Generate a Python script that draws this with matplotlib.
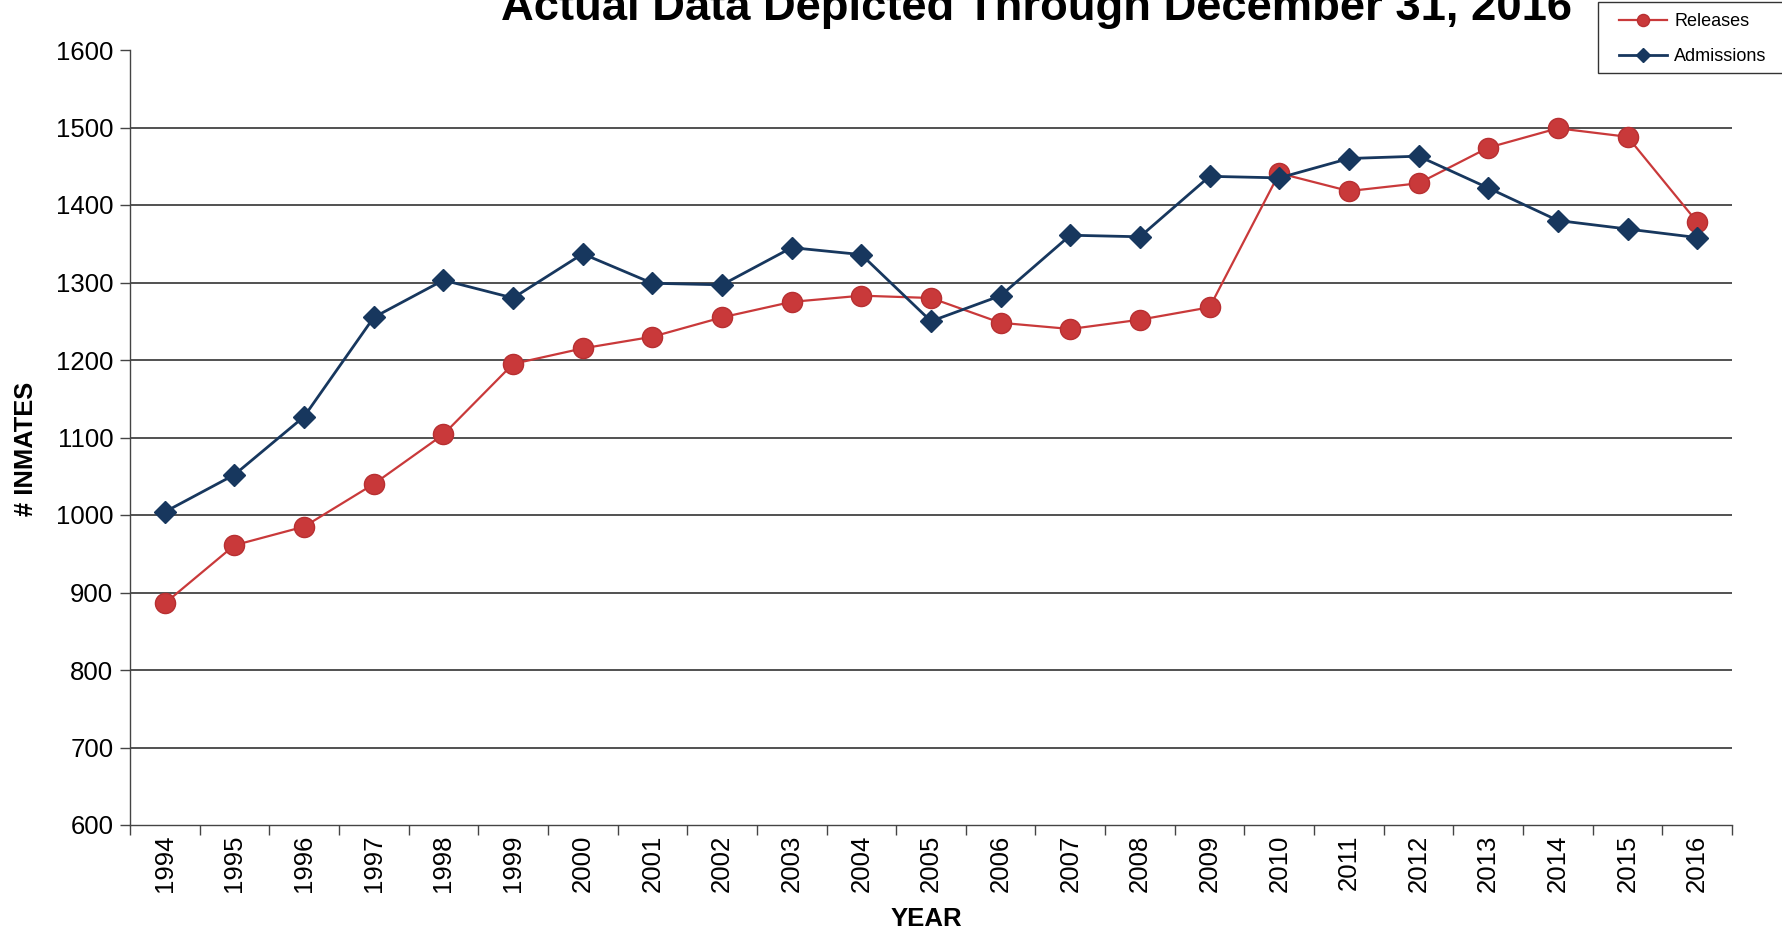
import matplotlib
matplotlib.use("Agg")
import matplotlib.pyplot as plt
from matplotlib.patches import Rectangle
import numpy as np

years = [str(y) for y in range(1994, 2017)]
releases = [886, 961, 985, 1040, 1104, 1195, 1215, 1230, 1255, 1275, 1283, 1280,
            1248, 1240, 1252, 1268, 1441, 1418, 1428, 1474, 1499, 1488, 1378]
admissions = [1004, 1052, 1127, 1255, 1303, 1280, 1337, 1299, 1297, 1345, 1336, 1250,
              1283, 1361, 1359, 1437, 1435, 1460, 1463, 1422, 1380, 1369, 1358]
title = "Actual Data Depicted Through December 31, 2016"

plt.rcParams['font.family'] = ['Liberation Sans', 'DejaVu Sans']

W, H = 1783, 934
fig = plt.figure(figsize=(W / 100, H / 100), dpi=100)
ax = fig.add_axes([130 / W, 1 - 825 / H, (1732 - 130) / W, (825 - 50) / H])

x = np.arange(len(years))
red = '#C9393A'
navy = '#17375E'
ax.plot(x, releases, color=red, lw=1.6, marker='o', ms=14.5, mfc=red, mec='#B83032',
        mew=1, label='Releases', zorder=3)
ax.plot(x, admissions, color=navy, lw=2, marker='D', ms=11.5, mfc=navy, mec=navy,
        label='Admissions', zorder=4)

ax.set_xlim(-0.5, len(years) - 0.5)
ax.set_ylim(600, 1600)
ax.set_yticks(np.arange(600, 1601, 100))
ax.set_xticks(x)
ax.set_xticklabels(years, rotation=90)
ax.set_xticks(np.arange(-0.5, len(years), 1), minor=True)
ax.tick_params(axis='x', which='major', length=0, pad=7, labelsize=18.5)
ax.tick_params(axis='x', which='minor', length=7, width=1, color='#444444')
ax.tick_params(axis='y', length=7, width=1, color='#444444', labelsize=18.5, pad=5)
for yv in range(700, 1600, 100):
    ax.axhline(yv, color='#222222', lw=1.1, zorder=1)
for s in ['top', 'right']:
    ax.spines[s].set_visible(False)
for s in ['left', 'bottom']:
    ax.spines[s].set_color('#444444')
    ax.spines[s].set_linewidth(1)

ax.set_ylabel('# INMATES', fontsize=18.4, fontweight='bold', va='center')
ax.yaxis.set_label_coords(-0.0647, 0.485)
ax.set_xlabel('YEAR', fontsize=18.5, fontweight='bold', va='center')
ax.xaxis.set_label_coords(0.497, -0.121)

fig.text(1037 / W, 1 - 20 / H, title, ha='center', va='baseline',
         fontsize=32.7, fontweight='bold')

# legend box (extends past the right edge, as in the reference)
box = Rectangle((1598 / W, 1 - 73 / H), 200 / W, 71 / H,
                transform=fig.transFigure, fill=True, facecolor='white',
                edgecolor='#333333', lw=1, zorder=5)
fig.patches.append(box)
handles, labels = ax.get_legend_handles_labels()
leg = fig.legend(handles, labels, loc='upper left', bbox_to_anchor=(1612 / W, 1 - 6 / H),
                 bbox_transform=fig.transFigure, fontsize=13, frameon=False,
                 handlelength=2.65, borderpad=0.4, labelspacing=1.0, handletextpad=0.4,
                 borderaxespad=0, markerscale=0.6)
leg.set_zorder(6)

fig.savefig('out.png', dpi=100)
